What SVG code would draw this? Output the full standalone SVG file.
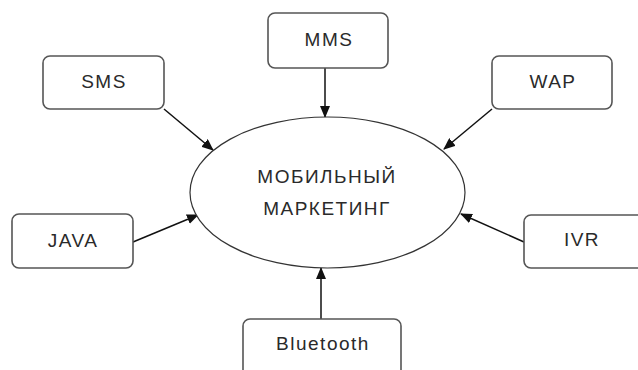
<svg xmlns="http://www.w3.org/2000/svg" width="638" height="370" viewBox="0 0 638 370">
<defs>
<marker id="ah" markerWidth="12" markerHeight="10" refX="11" refY="5" orient="auto" markerUnits="userSpaceOnUse">
<path d="M0,0 L12,5 L0,10 Z" fill="#111"/>
</marker>
<style>
.box{fill:#fff;stroke:#555;stroke-width:1.6}
.lbl{font-family:"Liberation Sans",Arial,sans-serif;font-size:19px;letter-spacing:1.5px;fill:#2a2a2a;text-anchor:middle}
.edge{stroke:#111;stroke-width:1.5;fill:none;marker-end:url(#ah)}
</style>
</defs>
<rect width="638" height="370" fill="#fff"/>
<g id="connectors">
<line class="edge" x1="164" y1="109" x2="213" y2="150"/>
<line class="edge" x1="325" y1="68" x2="325" y2="117"/>
<line class="edge" x1="492" y1="109" x2="444" y2="149"/>
<line class="edge" x1="133" y1="242" x2="198" y2="215"/>
<line class="edge" x1="524" y1="242" x2="461" y2="214"/>
<line class="edge" x1="321" y1="319" x2="321" y2="268"/>
</g>
<g id="center">
<ellipse cx="327.5" cy="192.5" rx="137.5" ry="75.5" fill="#fff" stroke="#333" stroke-width="1.2"/>
<text class="lbl" x="327" y="183">МОБИЛЬНЫЙ</text>
<text class="lbl" x="327" y="215">МАРКЕТИНГ</text>
</g>
<g id="sms">
<rect class="box" x="43" y="56" width="121" height="53" rx="7"/>
<text class="lbl" x="104" y="88">SMS</text>
</g>
<g id="mms">
<rect class="box" x="268" y="13" width="120" height="55" rx="7"/>
<text class="lbl" x="329" y="46">MMS</text>
</g>
<g id="wap">
<rect class="box" x="492" y="56" width="120" height="53" rx="7"/>
<text class="lbl" x="553" y="88">WAP</text>
</g>
<g id="java">
<rect class="box" x="12" y="214" width="121" height="54" rx="7"/>
<text class="lbl" x="73" y="247">JAVA</text>
</g>
<g id="ivr">
<rect class="box" x="524" y="215" width="122" height="53" rx="7"/>
<text class="lbl" x="582" y="246">IVR</text>
</g>
<g id="bluetooth">
<rect class="box" x="243" y="319" width="158" height="60" rx="7"/>
<text class="lbl" x="323" y="350">Bluetooth</text>
</g>
</svg>
